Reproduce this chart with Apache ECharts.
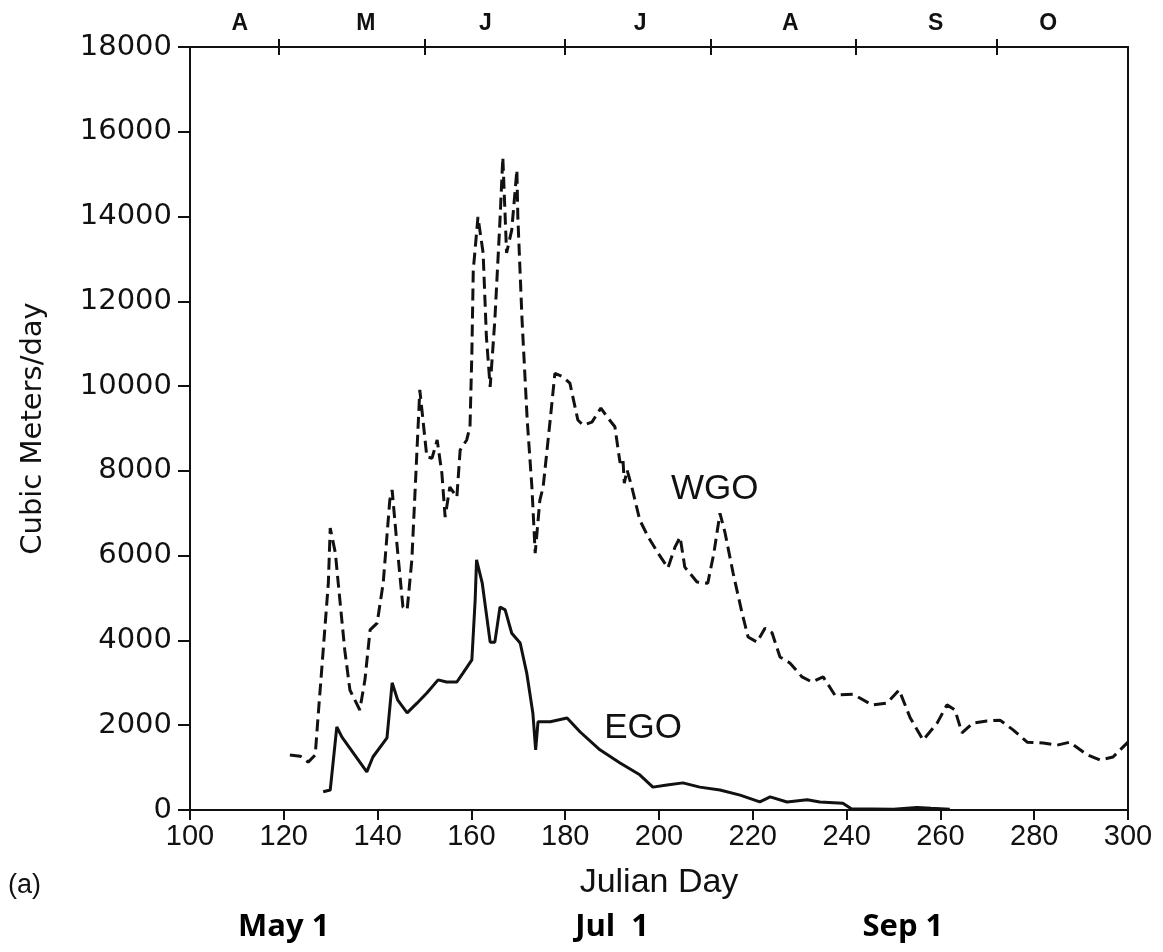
<!DOCTYPE html>
<html>
<head>
<meta charset="utf-8">
<script src="https://cdn.jsdelivr.net/npm/echarts@6/dist/echarts.min.js"></script>
<style>
  html, body { margin: 0; padding: 0; background: #fff; }
  #chart { width: 1163px; height: 952px; }
</style>
</head>
<body>
<div id="chart"></div>
<script>
// WGO (dashed) — Julian day / cubic meters per day
const wgoDays = [121.3, 123.5, 125.2, 126.7, 127.3, 128.4, 129.5, 129.9, 131.0, 131.6, 133.0, 134.1, 136.2, 137.3, 138.4, 139.9, 141.2, 142.6, 143.1, 144.1, 145.4, 146.3, 147.3, 147.9, 149.0, 150.5, 151.6, 152.7, 153.7, 154.4, 155.4, 156.9, 157.6, 159.0, 159.7, 160.1, 160.4, 161.4, 162.5, 163.2, 164.0, 165.0, 166.1, 166.7, 167.5, 168.6, 169.7, 169.9, 170.8, 171.9, 172.9, 173.6, 174.6, 175.3, 176.8, 177.8, 179.5, 181.0, 182.7, 183.8, 185.7, 187.6, 189.1, 190.6, 191.3, 191.7, 192.3, 192.6, 193.2, 194.2, 195.9, 197.7, 199.8, 201.9, 203.4, 204.5, 205.5, 208.1, 210.4, 211.7, 213.0, 214.1, 215.8, 217.7, 219.0, 220.9, 222.6, 224.1, 225.8, 227.9, 230.5, 232.6, 235.0, 237.5, 241.4, 245.4, 248.6, 251.2, 253.5, 256.3, 259.3, 261.4, 263.1, 264.6, 266.9, 269.9, 272.7, 275.5, 278.5, 281.9, 284.9, 287.6, 291.3, 294.0, 296.8, 300.0];
const wgoFlow = [1300, 1270, 1130, 1300, 2190, 3770, 5360, 6650, 6060, 5360, 3770, 2830, 2360, 3070, 4250, 4410, 5360, 7310, 7550, 6300, 4790, 4720, 5900, 7310, 9910, 8330, 8300, 8730, 7950, 6910, 7620, 7380, 8490, 8730, 9040, 10780, 12740, 13990, 13140, 11160, 9980, 11560, 13920, 15400, 13140, 13680, 15100, 13990, 11560, 9200, 7620, 6060, 7310, 7620, 9200, 10300, 10220, 10070, 9200, 9080, 9150, 9480, 9250, 9040, 8490, 8190, 8300, 7710, 8020, 7620, 6840, 6440, 6060, 5710, 6200, 6440, 5730, 5380, 5350, 6060, 7000, 6530, 5590, 4650, 4080, 3960, 4290, 4180, 3610, 3470, 3140, 3020, 3140, 2710, 2730, 2480, 2520, 2830, 2190, 1650, 2050, 2480, 2360, 1820, 2050, 2100, 2120, 1890, 1600, 1580, 1530, 1600, 1300, 1180, 1250, 1600];

// EGO (solid)
const egoDays = [128.4, 129.9, 131.3, 132.4, 137.7, 139.0, 142.0, 143.1, 144.3, 146.3, 148.4, 150.5, 152.9, 154.7, 156.9, 158.2, 160.1, 160.8, 161.1, 162.3, 164.0, 165.0, 166.1, 167.2, 168.6, 170.4, 171.8, 173.1, 173.7, 174.2, 176.8, 180.4, 183.2, 187.4, 191.7, 195.9, 198.7, 201.7, 205.1, 208.7, 213.0, 217.3, 221.5, 223.7, 227.3, 231.6, 234.3, 239.2, 241.0, 250.0, 255.0, 258.0, 262.0];
const egoFlow = [430, 470, 1960, 1720, 900, 1250, 1700, 3000, 2590, 2290, 2520, 2760, 3070, 3020, 3020, 3230, 3540, 4950, 5900, 5360, 3960, 3960, 4790, 4720, 4170, 3940, 3230, 2290, 1420, 2080, 2080, 2170, 1840, 1420, 1110, 830, 540, 590, 640, 540, 470, 350, 190, 310, 190, 240, 190, 160, 30, 20, 60, 40, 20];

// top month axis: boundaries and letter positions
const monthTicks = [119, 150, 180, 211, 242, 272];
const monthLabelDays = [110.6, 137.5, 163, 196, 228, 259, 283];
const monthLetters = ['A', 'M', 'J', 'J', 'A', 'S', 'O'];

// added date notes under the axis
const dateNoteDays = [120, 190, 252];
const dateNotes = ['May 1', 'Jul  1', 'Sep 1'];

const pairs = (xs, ys) => xs.map((x, i) => [x, ys[i]]);
const pick = (vals, names) => v => {
  const i = vals.findIndex(d => Math.abs(d - v) < 1e-6);
  return i < 0 ? '' : names[i];
};

const ink = '#111';
const chart = echarts.init(document.getElementById('chart'), null, { renderer: 'canvas' });

const topAxis = (inside, labels) => ({
  type: 'value', position: 'top', min: 100, max: 300,
  axisLine: { show: true, onZero: false, lineStyle: { color: ink, width: 2 } },
  axisTick: { show: true, inside: inside, length: 8, customValues: monthTicks, lineStyle: { color: ink, width: 2 } },
  axisLabel: labels ? {
    customValues: monthLabelDays, formatter: pick(monthLabelDays, monthLetters),
    fontFamily: 'Liberation Sans', fontWeight: 'bold', fontSize: 23, color: ink, margin: 12
  } : { show: false },
  splitLine: { show: false }
});

chart.setOption({
  animation: false,
  backgroundColor: '#fff',
  grid: { left: 190, right: 35, top: 47, bottom: 142 },
  xAxis: [
    {
      type: 'value', position: 'bottom', min: 100, max: 300, interval: 20,
      name: 'Julian Day', nameLocation: 'middle', nameGap: 56,
      nameTextStyle: { fontFamily: 'Liberation Sans', fontSize: 34, color: ink },
      axisLine: { show: true, onZero: false, lineStyle: { color: ink, width: 2 } },
      axisTick: { show: true, length: 10, lineStyle: { color: ink, width: 2 } },
      axisLabel: { fontFamily: 'Liberation Sans', fontSize: 29, color: ink, margin: 12 },
      splitLine: { show: false }
    },
    topAxis(false, true),
    topAxis(true, false),
    {
      type: 'value', position: 'bottom', min: 100, max: 300,
      axisLine: { show: false, onZero: false }, axisTick: { show: false },
      axisLabel: {
        customValues: dateNoteDays, formatter: pick(dateNoteDays, dateNotes),
        fontFamily: 'Open Sans', fontWeight: 'bold', fontSize: 31, color: '#000', margin: 102
      },
      splitLine: { show: false }
    }
  ],
  yAxis: [
    {
      type: 'value', position: 'left', min: 0, max: 18000, interval: 2000,
      name: 'Cubic Meters/day', nameLocation: 'middle', nameGap: 142,
      nameTextStyle: { fontFamily: 'DejaVu Sans', fontSize: 29, color: ink },
      axisLine: { show: true, lineStyle: { color: ink, width: 2 } },
      axisTick: { show: true, length: 12, lineStyle: { color: ink, width: 2 } },
      axisLabel: { fontFamily: 'DejaVu Sans', fontSize: 29, color: ink, margin: 18, formatter: v => String(v) },
      splitLine: { show: false }
    },
    {
      type: 'value', position: 'right', min: 0, max: 18000,
      axisLine: { show: true, lineStyle: { color: ink, width: 2 } },
      axisTick: { show: false }, axisLabel: { show: false }, splitLine: { show: false }
    }
  ],
  series: [
    {
      name: 'WGO', type: 'line', data: pairs(wgoDays, wgoFlow),
      showSymbol: false, symbol: 'none',
      lineStyle: { color: ink, width: 3, type: [12, 6] },
      markPoint: {
        symbol: 'rect', symbolSize: 1, itemStyle: { color: 'transparent' },
        label: { show: true, position: 'inside', fontFamily: 'Liberation Sans', fontSize: 35, color: ink },
        data: [{ coord: [211.9, 7570], value: 'WGO', label: { formatter: 'WGO' } }]
      }
    },
    {
      name: 'EGO', type: 'line', data: pairs(egoDays, egoFlow),
      showSymbol: false, symbol: 'none',
      lineStyle: { color: ink, width: 3 },
      markPoint: {
        symbol: 'rect', symbolSize: 1, itemStyle: { color: 'transparent' },
        label: { show: true, position: 'inside', fontFamily: 'Liberation Sans', fontSize: 35, color: ink },
        data: [{ coord: [196.6, 1930], value: 'EGO', label: { formatter: 'EGO' } }]
      }
    }
  ],
  graphic: [
    { type: 'text', left: 8, top: 872, style: { text: '(a)', fontFamily: 'Liberation Sans', fontSize: 27, fill: ink } }
  ]
});
</script>
</body>
</html>
